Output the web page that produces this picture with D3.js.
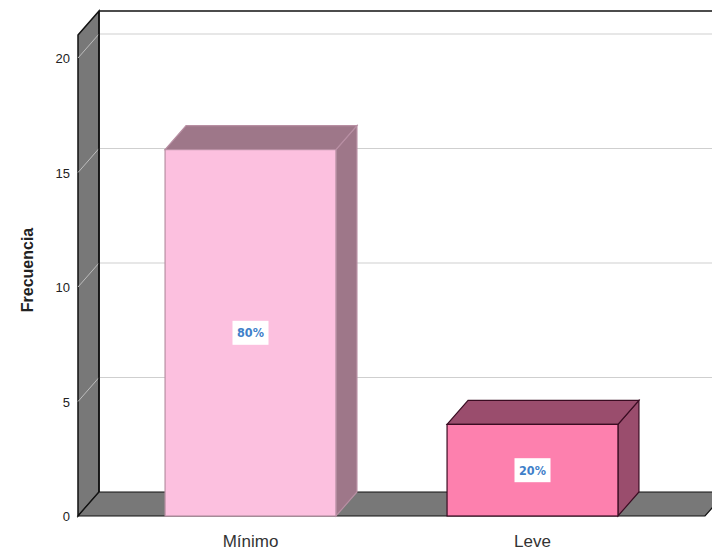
<!DOCTYPE html>
<html>
<head>
<meta charset="utf-8">
<script src="https://cdn.jsdelivr.net/npm/d3@7"></script>
<style>
  body { margin: 0; background: #fff; }
  svg { display: block; font-family: Arial, "Liberation Sans", sans-serif; }
</style>
</head>
<body>
<div class="chart"></div>
<script>
const categories = ["Mínimo", "Leve"]
const frequencies = [16, 4]
const percentLabels = ["80%", "20%"]
const yTicks = [0, 5, 10, 15, 20]

const frontColors = ["#fcc0df", "#fd80ae"]
const sideColors = ["#9e7789", "#9a4d6d"]
const edgeColors = ["#b88fa3", "#3a0c22"]

const width = 712, height = 550
// depth offset of the 3d effect
const dx = 21, dy = -24
const floorY = 516

const svg = d3.select(".chart").append("svg")
  .attr("width", width)
  .attr("height", height)

const y = d3.scaleLinear().domain([0, 21]).range([floorY, floorY - 21 * 22.9])
const x = d3.scaleBand().domain(categories)
  .range([109.5, 673.5]).paddingInner(0.394).paddingOuter(0.197)

const left = 78, right = 705
const topY = y(21)

// back wall
svg.append("rect")
  .attr("x", left + dx).attr("y", topY + dy)
  .attr("width", width).attr("height", floorY - topY)
  .attr("fill", "#fff")
svg.append("line")
  .attr("x1", left + dx).attr("x2", width)
  .attr("y1", topY + dy).attr("y2", topY + dy)
  .attr("stroke", "#111").attr("stroke-width", 1.5)

// left wall
svg.append("path")
  .attr("d", `M${left},${topY}L${left + dx},${topY + dy}L${left + dx},${floorY + dy}L${left},${floorY}Z`)
  .attr("fill", "#787878").attr("stroke", "#111").attr("stroke-width", 1.5)

// floor
svg.append("path")
  .attr("d", `M${left},${floorY}L${left + dx},${floorY + dy}L${right + dx},${floorY + dy}L${right},${floorY}Z`)
  .attr("fill", "#787878").attr("stroke", "#111").attr("stroke-width", 1.2)

// grid lines
const grid = svg.append("g")
grid.selectAll(".hline").data(yTicks.filter(d => d > 0)).enter()
  .append("line")
  .attr("x1", left + dx + 1).attr("x2", width)
  .attr("y1", d => y(d) + dy).attr("y2", d => y(d) + dy)
  .attr("stroke", "#cfcfcf").attr("stroke-width", 1.2)
grid.selectAll(".dline").data(yTicks.filter(d => d > 0)).enter()
  .append("line")
  .attr("x1", left).attr("x2", left + dx)
  .attr("y1", d => y(d)).attr("y2", d => y(d) + dy)
  .attr("stroke", "#bdbdbd").attr("stroke-width", 1)

// re-stroke the inner wall edge over the grid
svg.append("line")
  .attr("x1", left + dx).attr("x2", left + dx)
  .attr("y1", topY + dy).attr("y2", floorY + dy)
  .attr("stroke", "#111").attr("stroke-width", 1.5)

// tick labels
svg.append("g").selectAll("text").data(yTicks).enter()
  .append("text")
  .attr("x", 70).attr("y", d => y(d) + 5)
  .attr("text-anchor", "end")
  .attr("font-size", 13).attr("fill", "#222")
  .text(d => d)

// bars
const bars = svg.append("g").selectAll("g").data(categories).enter()
  .append("g")

bars.append("path")
  .attr("d", (d, i) => {
    const x0 = x(d), x1 = x(d) + x.bandwidth(), yt = y(frequencies[i])
    return `M${x1},${floorY}L${x1},${yt}L${x1 + dx},${yt + dy}L${x1 + dx},${floorY + dy}Z`
  })
  .attr("fill", (d, i) => sideColors[i])
  .attr("stroke", (d, i) => edgeColors[i]).attr("stroke-width", 1.2)

bars.append("path")
  .attr("d", (d, i) => {
    const x0 = x(d), x1 = x(d) + x.bandwidth(), yt = y(frequencies[i])
    return `M${x0},${yt}L${x0 + dx},${yt + dy}L${x1 + dx},${yt + dy}L${x1},${yt}Z`
  })
  .attr("fill", (d, i) => sideColors[i])
  .attr("stroke", (d, i) => edgeColors[i]).attr("stroke-width", 1.2)

bars.append("rect")
  .attr("x", d => x(d))
  .attr("y", (d, i) => y(frequencies[i]))
  .attr("width", x.bandwidth())
  .attr("height", (d, i) => floorY - y(frequencies[i]))
  .attr("fill", (d, i) => frontColors[i])
  .attr("stroke", (d, i) => edgeColors[i]).attr("stroke-width", 1.2)

// percent labels
bars.append("rect")
  .attr("x", d => x(d) + x.bandwidth() / 2 - 18)
  .attr("y", (d, i) => (y(frequencies[i]) + floorY) / 2 - 12)
  .attr("width", 36).attr("height", 24)
  .attr("fill", "#fff")
bars.append("text")
  .attr("x", d => x(d) + x.bandwidth() / 2)
  .attr("y", (d, i) => (y(frequencies[i]) + floorY) / 2 + 4.5)
  .attr("text-anchor", "middle")
  .attr("font-family", "'DejaVu Sans Condensed', 'DejaVu Sans', sans-serif")
  .attr("font-weight", "bold").attr("font-size", 12.5)
  .attr("fill", "#3f7fc9")
  .text((d, i) => percentLabels[i])

// category labels
svg.append("g").selectAll("text").data(categories).enter()
  .append("text")
  .attr("x", d => x(d) + x.bandwidth() / 2)
  .attr("y", 547)
  .attr("text-anchor", "middle")
  .attr("font-size", 17).attr("fill", "#333")
  .text(d => d)

// axis title
svg.append("text")
  .attr("transform", "translate(33,270) rotate(-90)")
  .attr("text-anchor", "middle")
  .attr("font-size", 16).attr("font-weight", "bold").attr("fill", "#222")
  .text("Frecuencia")
</script>
</body>
</html>
